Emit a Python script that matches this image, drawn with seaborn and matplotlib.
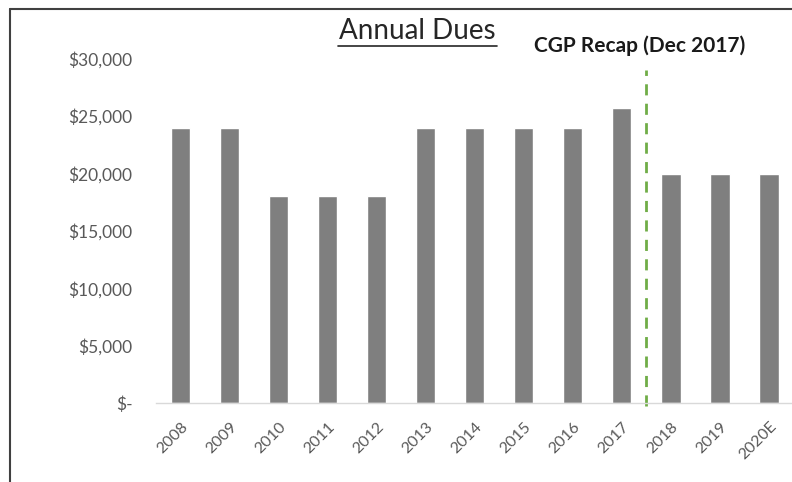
import pandas as pd
import matplotlib.pyplot as plt
import seaborn as sns
from matplotlib.lines import Line2D

# Chart data
years = ['2008', '2009', '2010', '2011', '2012', '2013', '2014',
         '2015', '2016', '2017', '2018', '2019', '2020E']
dues = [24000, 24000, 18000, 18000, 18000, 24000, 24000,
        24000, 24000, 25700, 20000, 20000, 20000]
y_ticks = [0, 5000, 10000, 15000, 20000, 25000, 30000]
y_labels = ['$-', '$5,000', '$10,000', '$15,000', '$20,000', '$25,000', '$30,000']
recap_label = 'CGP Recap (Dec 2017)'

df = pd.DataFrame({'Year': years, 'Dues': dues})

sns.set_style('white')
plt.rcParams['font.family'] = ['Lato', 'DejaVu Sans']

fig = plt.figure(figsize=(7.92, 4.82), dpi=100)
ax = fig.add_axes([0.197, 0.164, 0.805, 0.714])

sns.barplot(data=df, x='Year', y='Dues', order=years, color='#7F7F7F',
            saturation=1, width=0.39, ax=ax)

ax.set_ylim(0, 30000)
ax.set_xlim(-0.5, len(years) - 0.5)
ax.set_yticks(y_ticks)
ax.set_yticklabels(y_labels, fontsize=12.5, color='#595959')
ax.set_xticks(range(len(years)))
ax.set_xticklabels(years, rotation=45, ha='right', rotation_mode='anchor',
                   fontsize=11.5, color='#595959')
ax.tick_params(axis='y', length=0, pad=17)
ax.tick_params(axis='x', length=0, pad=12)
ax.set_xlabel('')
ax.set_ylabel('')

for side in ['top', 'right', 'left']:
    ax.spines[side].set_visible(False)
ax.spines['bottom'].set_color('#D9D9D9')
ax.spines['bottom'].set_linewidth(1)

# recap marker between 2017 and 2018
recap_pos = years.index('2017') + 0.5
ax.plot([recap_pos, recap_pos], [-300, 29000], color='#70AD47',
        linestyle=(0, (4, 3)), linewidth=2, clip_on=False)
fig.text(640 / 792, 1 - 46 / 482, recap_label, ha='center', va='center',
         fontsize=15, fontweight='bold', color='#1a1a1a')

# underlined title
fig.text(417 / 792, 1 - 31 / 482, 'Annual Dues', ha='center', va='center',
         fontsize=20, color='#262626')
fig.add_artist(Line2D([338 / 792, 497 / 792], [1 - 46 / 482, 1 - 46 / 482],
                      color='#262626', linewidth=1.2))

# outer frame (top and left edges)
fig.add_artist(Line2D([10 / 792, 1.0], [1 - 9 / 482, 1 - 9 / 482],
                      color='#404040', linewidth=1.5))
fig.add_artist(Line2D([10 / 792, 10 / 792], [0, 1 - 9 / 482],
                      color='#404040', linewidth=1.5))

fig.savefig('out.png', dpi=100)
